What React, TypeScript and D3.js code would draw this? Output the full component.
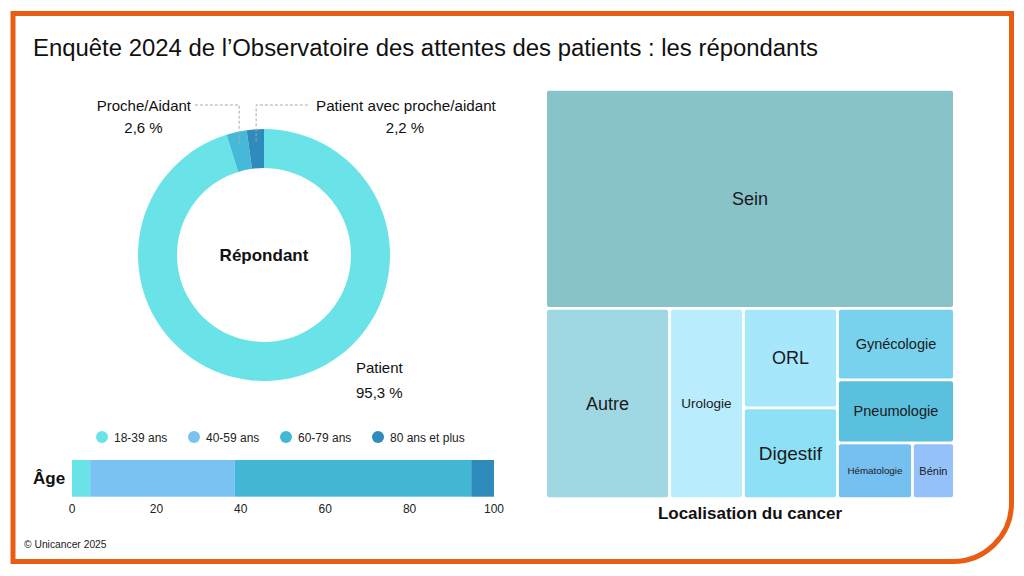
import React from 'react';
import * as d3 from 'd3';

// Répondant (donut)
const respondentLabels = ['Patient', 'Proche/Aidant', 'Patient avec proche/aidant'];
const respondentValues = [95.3, 2.6, 2.2];
const respondentColors = ['#6ae3e8', '#45b9d7', '#2e8bbb'];

// Âge (barre empilée)
const ageLabels = ['18-39 ans', '40-59 ans', '60-79 ans', '80 ans et plus'];
const ageValues = [4.3, 34.3, 56.0, 5.4];
const ageColors = ['#6ae3e8', '#79c2f2', '#43b8d6', '#2e8bbb'];
const ageTicks = [0, 20, 40, 60, 80, 100];

// Localisation du cancer (treemap)
const cancerLabels = ['Sein', 'Autre', 'Urologie', 'ORL', 'Digestif', 'Gynécologie', 'Pneumologie', 'Hématologie', 'Bénin'];
const cancerValues = [53.5, 14.1, 8.4, 5.6, 5.1, 5.0, 4.4, 2.5, 1.4];
const cancerColors = ['#88c3c9', '#9fd8e2', '#b9ecfc', '#a7e7fb', '#8ee0f7', '#78d2ed', '#5bbfde', '#76c0f1', '#94c1f9'];
const cancerFontSizes = [18, 18, 13.5, 18, 19, 14.5, 14.5, 9.8, 11];

const FONT = '"Liberation Sans", Arial, sans-serif';
const ORANGE = '#e95d13';

export default function App() {
  // donut
  const cx = 264, cy = 255, rOuter = 126, rInner = 87;
  const pie = d3.pie<number>().sort(null).value(d => d)(respondentValues);
  const arc = d3.arc<d3.PieArcDatum<number>>().innerRadius(rInner).outerRadius(rOuter);
  const leaderPoint = (i: number) => {
    const a = (pie[i].startAngle + pie[i].endAngle) / 2;
    const r = rOuter - 12;
    return [cx + Math.sin(a) * r, cy - Math.cos(a) * r];
  };
  const p1 = leaderPoint(1);
  const p2 = leaderPoint(2);
  const pct = (v: number) => `${v.toFixed(1).replace('.', ',')} %`;

  // age bar
  const xAge = d3.scaleLinear().domain([0, 100]).range([72, 494]);
  let acc = 0;
  const ageSegs = ageValues.map((v, i) => {
    const s = { x0: acc, x1: acc + v, color: ageColors[i] };
    acc += v;
    return s;
  });
  const legendX = d3.scalePoint<string>().domain(ageLabels).range([102, 378]);

  // treemap
  const root = d3.hierarchy<any>({
    children: cancerLabels.map((name, i) => ({ name, value: cancerValues[i], i }))
  }).sum(d => d.value || 0).sort((a, b) => (b.value || 0) - (a.value || 0));
  d3.treemap<any>().tile(d3.treemapBinary).size([406, 406.5]).paddingInner(2.8)(root);
  const tmX = 547, tmY = 90.7;

  return (
    <svg width={1024} height={576} style={{ position: 'absolute', left: 0, top: 0, fontFamily: FONT }}>
      <rect width={1024} height={576} fill="#fff" />
      <path
        d={`M13,561.5 L13,13.5 L1011.5,13.5 L1011.5,503 A58.5,58.5 0 0 1 953,561.5 Z`}
        fill="none" stroke={ORANGE} strokeWidth={5}
      />
      <text x={33} y={56} fontSize={23} textLength={785} lengthAdjust="spacingAndGlyphs" fill="#111">
        Enquête 2024 de l’Observatoire des attentes des patients : les répondants
      </text>

      {/* donut */}
      <g transform={`translate(${cx},${cy})`}>
        {pie.map((d, i) => (
          <path key={i} d={arc(d) || ''} fill={respondentColors[i]} />
        ))}
      </g>
      <text x={cx} y={cy + 6} textAnchor="middle" fontSize={17} fontWeight="bold" fill="#111">Répondant</text>
      <polyline points={`${p1[0]},${p1[1]} ${p1[0]},105 193,105`} fill="none" stroke="#aaa" strokeDasharray="3,2" />
      <polyline points={`${p2[0]},${p2[1]} ${p2[0]},105 310,105`} fill="none" stroke="#aaa" strokeDasharray="3,2" />
      <text x={191} y={110.5} textAnchor="end" fontSize={15} fill="#111">{respondentLabels[1]}</text>
      <text x={143.5} y={132.5} textAnchor="middle" fontSize={15} fill="#111">{pct(respondentValues[1])}</text>
      <text x={316} y={110.5} fontSize={15.2} fill="#111">{respondentLabels[2]}</text>
      <text x={405} y={132.5} textAnchor="middle" fontSize={15} fill="#111">{pct(respondentValues[2])}</text>
      <text x={356} y={373} fontSize={15} fill="#111">{respondentLabels[0]}</text>
      <text x={356} y={398} fontSize={15} fill="#111">{pct(respondentValues[0])}</text>

      {/* legend */}
      {ageLabels.map((l, i) => (
        <g key={l} transform={`translate(${legendX(l)},437)`}>
          <circle r={6} fill={ageColors[i]} />
          <text x={12} y={4.5} fontSize={12} fill="#222">{l}</text>
        </g>
      ))}

      {/* age bar */}
      <text x={33} y={484} fontSize={17} fontWeight="bold" fill="#111">Âge</text>
      {ageSegs.map((s, i) => (
        <rect key={i} x={xAge(s.x0)} y={460} width={xAge(s.x1) - xAge(s.x0)} height={36.7} fill={s.color} />
      ))}
      {ageTicks.map(t => (
        <text key={t} x={xAge(t)} y={512.5} textAnchor="middle" fontSize={12} fill="#222">{t}</text>
      ))}

      {/* treemap */}
      <g transform={`translate(${tmX},${tmY})`}>
        {root.leaves().map((n: any) => {
          const i = n.data.i;
          return (
            <g key={i}>
              <rect x={n.x0} y={n.y0} width={n.x1 - n.x0} height={n.y1 - n.y0} rx={2} fill={cancerColors[i]} />
              <text
                x={(n.x0 + n.x1) / 2}
                y={(n.y0 + n.y1) / 2}
                dy="0.35em"
                textAnchor="middle"
                fontSize={cancerFontSizes[i]}
                fill="#1a1a1a"
              >{n.data.name}</text>
            </g>
          );
        })}
      </g>
      <text x={750} y={519} textAnchor="middle" fontSize={17} fontWeight="bold" fill="#111">Localisation du cancer</text>

      <text x={24} y={548} fontSize={10.3} fill="#222">© Unicancer 2025</text>
    </svg>
  );
}
